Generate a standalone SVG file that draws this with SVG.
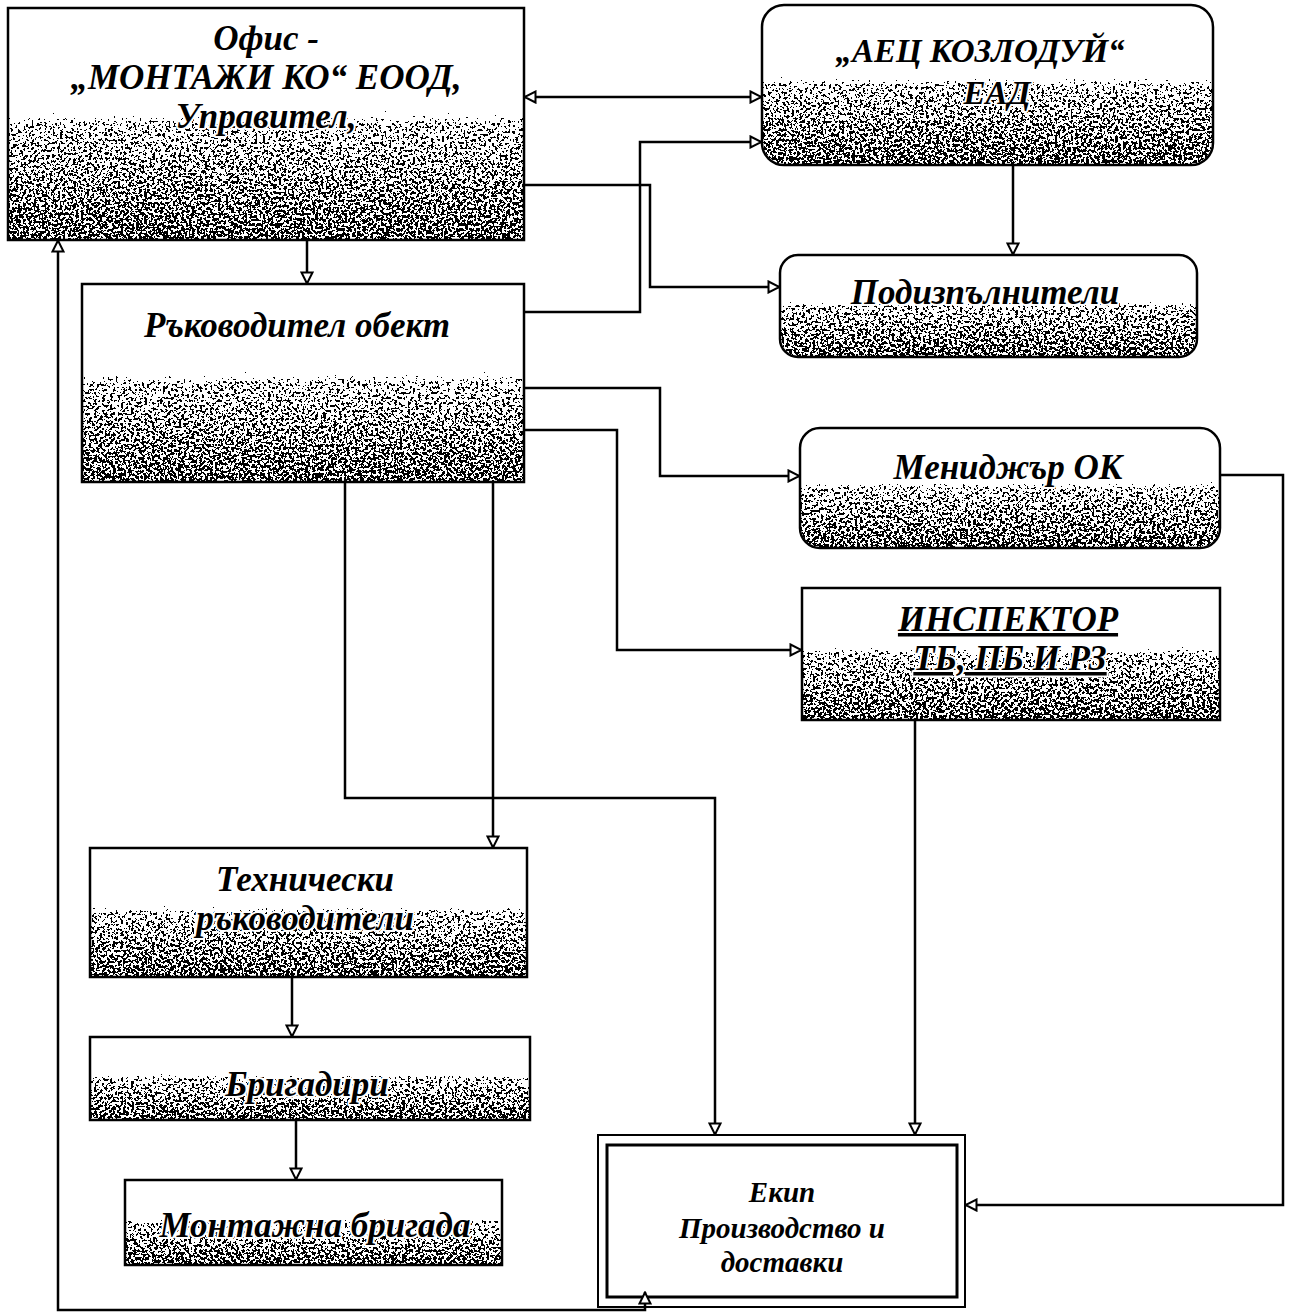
<svg xmlns="http://www.w3.org/2000/svg" width="1297" height="1315" viewBox="0 0 1297 1315">
<style>
.box{fill:#fff;stroke:#000;stroke-width:2.5}
.sh{fill:url(#shade);filter:url(#stip)}
.t{font-family:"Liberation Serif","DejaVu Serif",serif;font-style:italic;font-weight:bold;font-size:35px;text-anchor:middle;fill:#000;paint-order:stroke;stroke:#fff;stroke-width:4px;stroke-linejoin:round}
.m{font-size:33px}
.s{font-size:29px}
.c{fill:none;stroke:#000;stroke-width:2.5}
.a{marker-end:url(#ah)}
</style>
<defs>
<linearGradient id="shade" x1="0" y1="0" x2="0" y2="1">
<stop offset="0.36" stop-color="#000" stop-opacity="0"/>
<stop offset="0.5" stop-color="#000" stop-opacity="0.66"/>
<stop offset="1" stop-color="#000" stop-opacity="0.78"/>
</linearGradient>
<filter id="stip" x="0" y="0" width="1" height="1" color-interpolation-filters="sRGB">
<feTurbulence type="fractalNoise" baseFrequency="0.38" numOctaves="2" seed="5" result="t"/>
<feColorMatrix in="t" type="matrix" values="0 0 0 0 0  0 0 0 0 0  0 0 0 0 0  1 0 0 0 0" result="n"/>
<feComposite in="SourceGraphic" in2="n" operator="arithmetic" k1="0" k2="1" k3="-1" k4="0" result="d"/>
<feComponentTransfer in="d" result="b"><feFuncA type="discrete" tableValues="0 1 1 1"/></feComponentTransfer>
<feColorMatrix in="b" type="matrix" values="0 0 0 0 0  0 0 0 0 0  0 0 0 0 0  0 0 0 1 0"/>
</filter>
<marker id="ah" viewBox="0 0 14 14" refX="13" refY="7" markerWidth="14" markerHeight="14" markerUnits="userSpaceOnUse" orient="auto-start-reverse">
<path d="M1.5,1.5 L12.5,7 L1.5,12.5 Z" fill="#fff" stroke="#000" stroke-width="2"/>
</marker>
</defs>

<g id="office">
<rect class="box" x="8" y="8" width="516" height="232"/>
<rect class="sh" x="9" y="9" width="514" height="230"/>
<text class="t" x="266" y="50">Офис -</text>
<text class="t" x="266" y="89">„МОНТАЖИ КО“ ЕООД,</text>
<text class="t" x="266" y="128">Управител,</text>
</g>

<g id="aec">
<rect class="box" x="762" y="5" width="451" height="160" rx="22"/>
<rect class="sh" x="763" y="6" width="449" height="158" rx="21"/>
<text class="t m" x="980" y="62">„АЕЦ КОЗЛОДУЙ“</text>
<text class="t m" x="997" y="104">ЕАД</text>
</g>

<g id="podizpalniteli">
<rect class="box" x="780" y="255" width="417" height="102" rx="18"/>
<rect class="sh" x="781" y="256" width="415" height="100" rx="17"/>
<text class="t" x="985" y="304">Подизпълнители</text>
</g>

<g id="rakovoditel">
<rect class="box" x="82" y="284" width="442" height="198"/>
<rect class="sh" x="83" y="285" width="440" height="196"/>
<text class="t" x="297" y="337">Ръководител обект</text>
</g>

<g id="menidzhar">
<rect class="box" x="800" y="428" width="420" height="120" rx="20"/>
<rect class="sh" x="801" y="429" width="418" height="118" rx="19"/>
<text class="t" x="1008" y="479">Мениджър ОК</text>
</g>

<g id="inspektor">
<rect class="box" x="802" y="588" width="418" height="132"/>
<rect class="sh" x="803" y="589" width="416" height="130"/>
<text class="t" x="1008" y="631" text-decoration="underline">ИНСПЕКТОР</text>
<text class="t" x="1010" y="670" text-decoration="underline">ТБ, ПБ И РЗ</text>
</g>

<g id="tehnicheski">
<rect class="box" x="90" y="848" width="437" height="129"/>
<rect class="sh" x="91" y="849" width="435" height="127"/>
<text class="t" x="305" y="891">Технически</text>
<text class="t" x="305" y="930">ръководители</text>
</g>

<g id="brigadiri">
<rect class="box" x="90" y="1037" width="440" height="83"/>
<rect class="sh" x="91" y="1038" width="438" height="81"/>
<text class="t" x="307" y="1096">Бригадири</text>
</g>

<g id="montazhna">
<rect class="box" x="125" y="1180" width="377" height="85"/>
<rect class="sh" x="126" y="1181" width="375" height="83"/>
<text class="t" x="315" y="1237">Монтажна бригада</text>
</g>

<g id="ekip">
<rect x="598" y="1135" width="367" height="172" fill="#fff" stroke="#000" stroke-width="2"/>
<rect x="607" y="1145" width="350" height="152" fill="#fff" stroke="#000" stroke-width="3"/>
<text class="t s" x="782" y="1202">Екип</text>
<text class="t s" x="782" y="1238">Производство и</text>
<text class="t s" x="782" y="1272">доставки</text>
</g>

<g id="connectors">
<path class="c" d="M524,97 H762" marker-start="url(#ah)" marker-end="url(#ah)"/>
<path class="c a" d="M524,312 H640 V142 H762"/>
<path class="c a" d="M524,185 H650 V287 H780"/>
<path class="c a" d="M1013,165 V255"/>
<path class="c a" d="M307,240 V284"/>
<path class="c a" d="M524,388 H660 V476 H800"/>
<path class="c a" d="M524,430 H617 V650 H802"/>
<path class="c a" d="M1220,475 H1283 V1205 H965"/>
<path class="c a" d="M915,720 V1135"/>
<path class="c a" d="M345,482 V798 H715 V1135"/>
<path class="c a" d="M493,482 V848"/>
<path class="c a" d="M292,977 V1037"/>
<path class="c a" d="M296,1120 V1180"/>
<path class="c a" d="M645,1292 V1310 H58 V240" marker-start="url(#ah)"/>
</g>
</svg>
